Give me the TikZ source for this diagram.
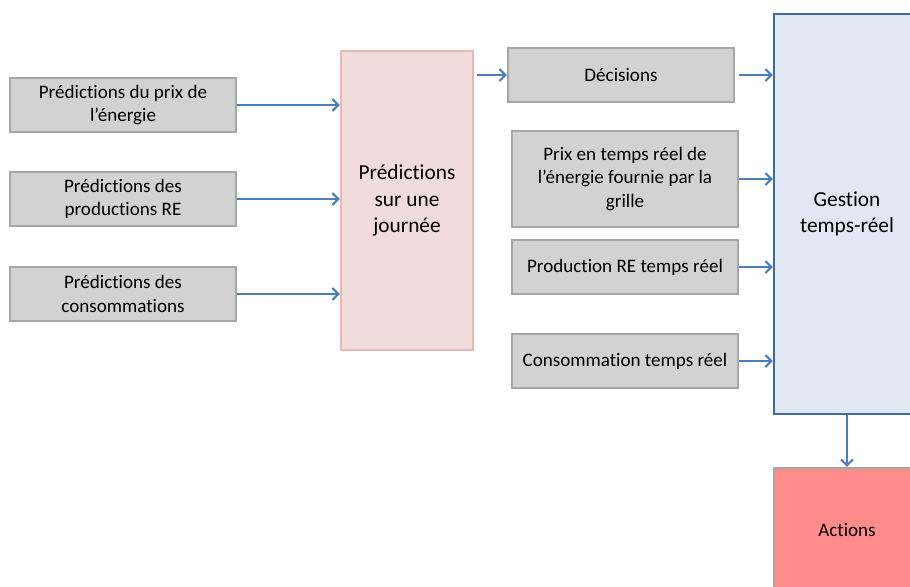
\documentclass[tikz,border=0pt]{standalone}
\usepackage{fontspec}
\setmainfont{Carlito}[Ligatures={NoCommon}]
\usetikzlibrary{arrows.meta}
\definecolor{grayfill}{HTML}{D2D2D2}
\definecolor{grayline}{HTML}{A6A6A6}
\definecolor{pinkfill}{HTML}{F2DCDB}
\definecolor{pinkline}{HTML}{E6B9B8}
\definecolor{bluefill}{HTML}{E1E8F3}
\definecolor{blueline}{HTML}{3D6BA6}
\definecolor{redfill}{HTML}{FF8B8B}
\definecolor{arrowcol}{HTML}{4A7EBB}
\tikzset{
  graybox/.style={draw=grayline, fill=grayfill, line width=1.6pt, align=center,
    minimum width=169.5pt, minimum height=40.5pt, inner sep=2pt,
    font=\fontsize{14.3pt}{17.6pt}\selectfont},
  flow/.style={draw=arrowcol, line width=1.6pt,
    -{Straight Barb[length=4.5pt,width=9pt,line width=1.6pt]}},
}
\begin{document}
\begin{tikzpicture}[x=0.75pt,y=-0.75pt]
\useasboundingbox (0,0) rectangle (910,586);
% left inputs
\node[graybox] (b1) at (123,105) {Prédictions du prix de\\l’énergie};
\node[graybox] (b2) at (123,199) {Prédictions des\\productions RE};
\node[graybox] (b3) at (123,294) {Prédictions des\\consommations};
% prediction block
\node[draw=pinkline, fill=pinkfill, line width=1.6pt, align=center,
  minimum width=99pt, minimum height=224.25pt,
  font=\fontsize{16pt}{19.6pt}\selectfont] (pred) at (407,200.5)
  {Prédictions\\sur une\\journée};
% middle
\node[graybox] (dec) at (621,75) {Décisions};
\node[graybox, minimum height=72pt] (prix) at (625,179)
  {Prix en temps réel de\\l’énergie fournie par la\\grille};
\node[graybox] (prod) at (625,267) {Production RE temps réel};
\node[graybox] (cons) at (625,361) {Consommation temps réel};
% management
\node[draw=blueline, fill=bluefill, line width=1.6pt, align=center,
  minimum width=109.5pt, minimum height=300pt,
  font=\fontsize{16pt}{19pt}\selectfont] (gest) at (847,214)
  {Gestion\\temps-réel};
\node[draw=grayline, fill=redfill, line width=1.6pt,
  minimum width=109.5pt, minimum height=93pt,
  font=\fontsize{14.3pt}{17.6pt}\selectfont] (act) at (847,530) {Actions};
% connectors
\draw[flow] (b1.east) -- (b1.east -| pred.west);
\draw[flow] (b2.east) -- (b2.east -| pred.west);
\draw[flow] (b3.east) -- (b3.east -| pred.west);
\draw[flow, shorten <=2.25pt] (dec.west -| pred.east) -- (dec.west);
\draw[flow, shorten <=3pt] (dec.east) -- (dec.east -| gest.west);
\draw[flow] (prix.east) -- (prix.east -| gest.west);
\draw[flow] (prod.east) -- (prod.east -| gest.west);
\draw[flow] (cons.east) -- (cons.east -| gest.west);
\draw[flow] (gest.south) -- (act.north);
\end{tikzpicture}
\end{document}
